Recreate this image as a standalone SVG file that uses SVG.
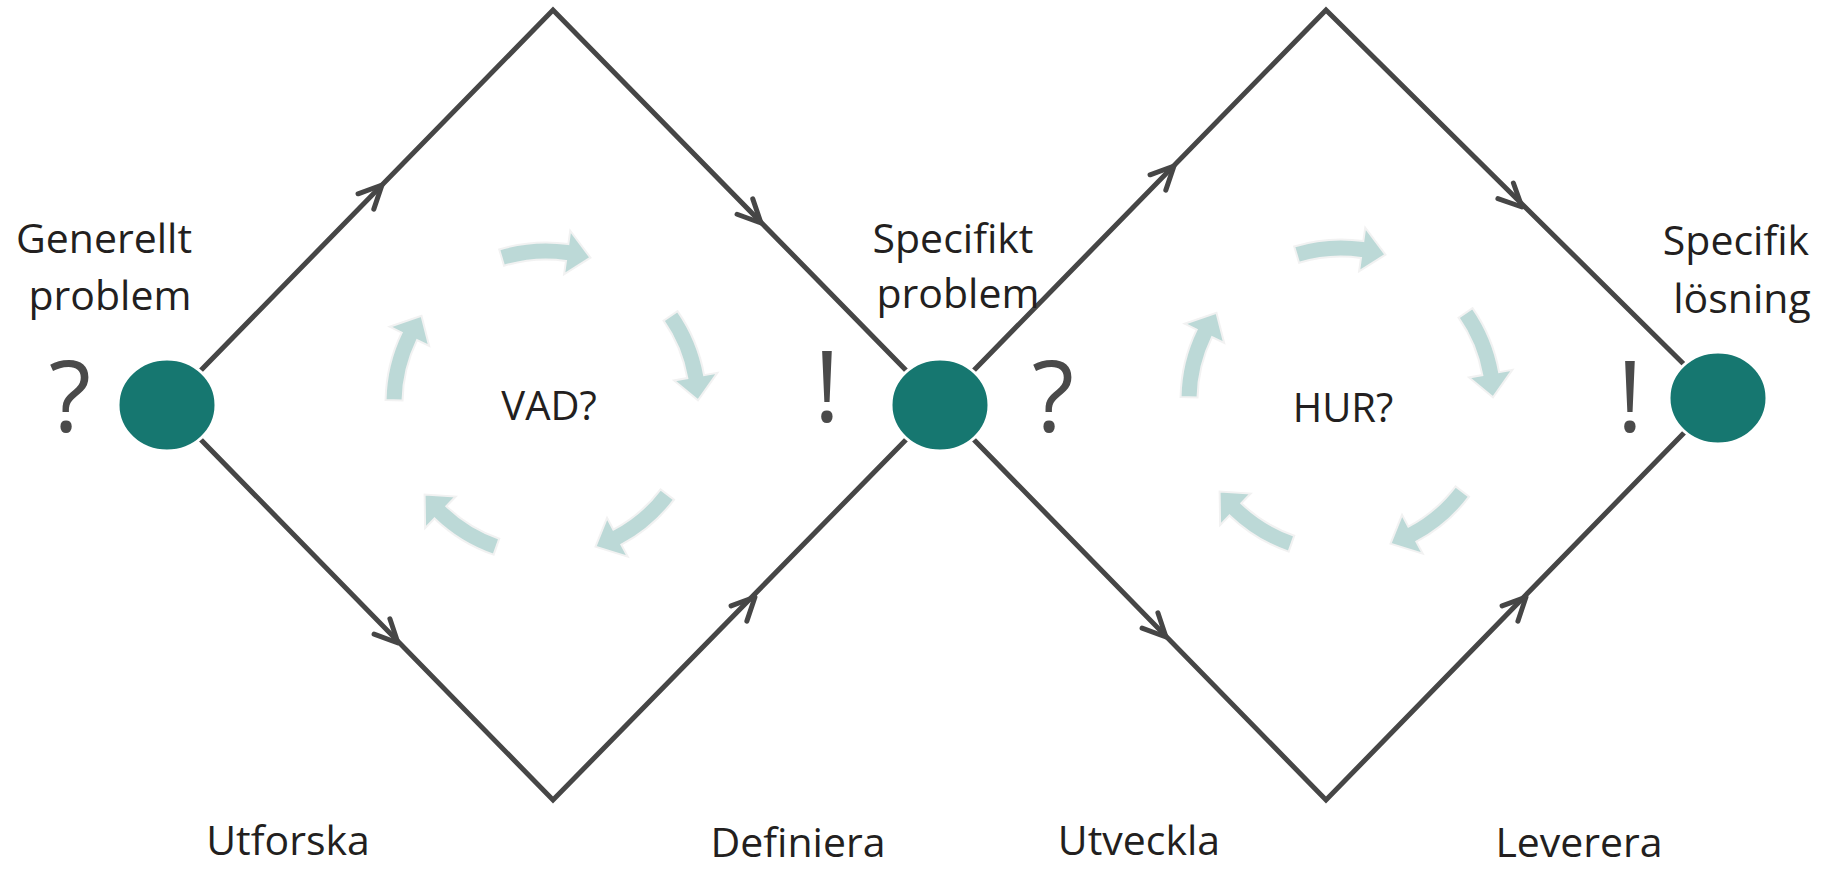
<svg xmlns="http://www.w3.org/2000/svg" width="1821" height="869" viewBox="0 0 1821 869">
<style>
.edge{fill:none;stroke:#464646;stroke-width:5;stroke-linejoin:miter}
.ah{fill:none;stroke:#464646;stroke-width:5;stroke-linecap:round;stroke-linejoin:round}
.node{fill:#167770;stroke:#ffffff;stroke-width:3}
.lbl{font-family:"Open Sans","Noto Sans",sans-serif;font-size:41px;fill:#231f20;text-anchor:middle}
.ctr{font-family:"Open Sans","Noto Sans",sans-serif;font-size:40px;fill:#231f20;text-anchor:middle}
.mark{font-family:"Open Sans","Noto Sans",sans-serif;font-size:98px;font-weight:500;fill:#4a4a4a;text-anchor:middle}
.cyc{fill:#bcd9d7;stroke:#f2f2f2;stroke-width:2}
</style>
<defs>
<path id="head" class="ah" d="M-23,-11 L0,0 L-23,11"/>
<path id="carc" d="M501.21,249.51 A160.5,160.5 0 0 1 570.34,244.06 L572.22,230.69 L592.44,257.64 L566.09,274.26 L567.97,260.89 A143.5,143.5 0 0 0 506.04,265.77 Z"/>
</defs>
<g id="connectors">
<polygon class="edge" points="167,405 553,10 940,405 553,800"/>
<polygon class="edge" points="940,405 1326,10 1718,398 1326,800"/>
<use href="#head" transform="translate(382,185) rotate(-45.7)"/>
<use href="#head" transform="translate(761,223) rotate(45.6)"/>
<use href="#head" transform="translate(398,643) rotate(45.9)"/>
<use href="#head" transform="translate(755,597) rotate(-45.8)"/>
<use href="#head" transform="translate(1174,166) rotate(-45.7)"/>
<use href="#head" transform="translate(1522,207) rotate(44.7)"/>
<use href="#head" transform="translate(1166,637) rotate(45.9)"/>
<use href="#head" transform="translate(1526,597) rotate(-45.9)"/>
</g>
<g id="cycle-vad">
<g transform="translate(-2,0)">
<use href="#carc" class="cyc"/>
<use href="#carc" class="cyc" transform="rotate(72 548 403)"/>
<use href="#carc" class="cyc" transform="rotate(144 548 403)"/>
<use href="#carc" class="cyc" transform="rotate(216 548 403)"/>
<use href="#carc" class="cyc" transform="rotate(288 548 403)"/>
</g>
<text class="ctr" x="549" y="420">VAD?</text>
</g>
<g id="cycle-hur">
<g transform="translate(793,-3)">
<use href="#carc" class="cyc"/>
<use href="#carc" class="cyc" transform="rotate(72 548 403)"/>
<use href="#carc" class="cyc" transform="rotate(144 548 403)"/>
<use href="#carc" class="cyc" transform="rotate(216 548 403)"/>
<use href="#carc" class="cyc" transform="rotate(288 548 403)"/>
</g>
<text class="ctr" x="1343" y="422">HUR?</text>
</g>
<g id="node-generellt">
<ellipse class="node" cx="167" cy="405" rx="49" ry="46"/>
<text class="lbl" x="104" y="253">Generellt</text>
<text class="lbl" x="110" y="310">problem</text>
<text class="mark" x="70" y="432">?</text>
</g>
<g id="node-specifikt">
<ellipse class="node" cx="940" cy="405" rx="49" ry="46"/>
<text class="lbl" x="953" y="253">Specifikt</text>
<text class="lbl" x="958" y="308">problem</text>
<text class="mark" x="827" y="422">!</text>
<text class="mark" x="1053" y="432">?</text>
</g>
<g id="node-losning">
<ellipse class="node" cx="1718" cy="398" rx="49" ry="46"/>
<text class="lbl" x="1736" y="255">Specifik</text>
<text class="lbl" x="1742" y="313">lösning</text>
<text class="mark" x="1630" y="432">!</text>
</g>
<g id="phase-labels">
<text class="lbl" x="288" y="855">Utforska</text>
<text class="lbl" x="798" y="857">Definiera</text>
<text class="lbl" x="1139" y="855">Utveckla</text>
<text class="lbl" x="1579" y="857">Leverera</text>
</g>
</svg>
